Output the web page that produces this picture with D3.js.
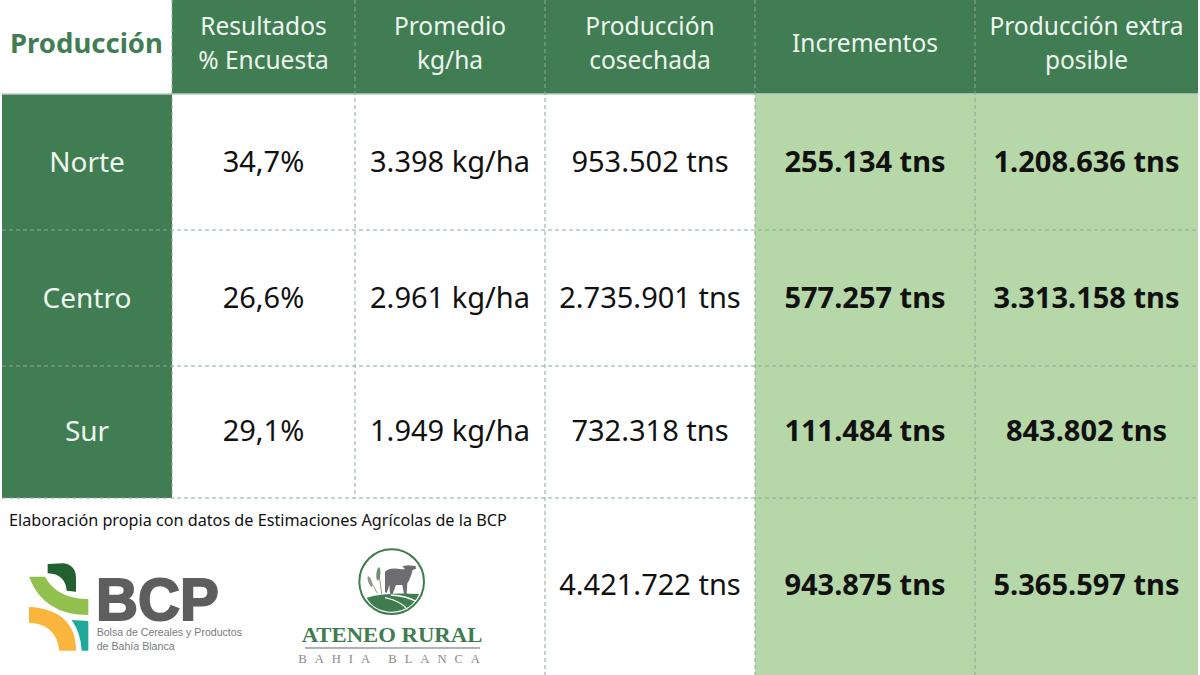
<!DOCTYPE html>
<html>
<head>
<meta charset="utf-8">
<script src="https://cdn.jsdelivr.net/npm/d3@7"></script>
<style>
  html, body { margin: 0; padding: 0; background: #fff; }
  svg { display: block; }
  text { font-family: "Noto Sans", sans-serif; }
</style>
</head>
<body>
<svg id="chart" width="1200" height="675"></svg>
<script>
// Table contents
const title = "Producción";
const headers = [["Resultados", "% Encuesta"], ["Promedio", "kg/ha"], ["Producción", "cosechada"], ["Incrementos"], ["Producción extra", "posible"]];
const regions = ["Norte", "Centro", "Sur"];
const encuesta = ["34,7%", "26,6%", "29,1%"];
const promedio = ["3.398 kg/ha", "2.961 kg/ha", "1.949 kg/ha"];
const cosechada = ["953.502 tns", "2.735.901 tns", "732.318 tns", "4.421.722 tns"];
const incrementos = ["255.134 tns", "577.257 tns", "111.484 tns", "943.875 tns"];
const extra = ["1.208.636 tns", "3.313.158 tns", "843.802 tns", "5.365.597 tns"];
const footnote = "Elaboración propia con datos de Estimaciones Agrícolas de la BCP";

const DARK = "#417d53", LIGHT = "#b6d7a8", DASH = "#8aa898";

// Column and row edges
const x = d3.scaleOrdinal().domain(d3.range(7)).range([2, 172, 355, 545, 755, 975, 1198]);
const y = d3.scaleOrdinal().domain(d3.range(5)).range([0, 94, 230, 366, 498]);
const xMid = i => (x(i) + x(i + 1)) / 2;
const yMid = [0, 162, 298, 431, 585];
const bottom = 675;

const svg = d3.select("#chart");

// Header band and row label column
svg.append("rect").attr("x", x(1)).attr("y", 0).attr("width", x(6) - x(1)).attr("height", y(1)).attr("fill", DARK);
svg.append("rect").attr("x", x(0)).attr("y", y(1)).attr("width", x(1) - x(0)).attr("height", y(4) - y(1)).attr("fill", DARK);
svg.append("rect").attr("x", x(4)).attr("y", y(1)).attr("width", x(6) - x(4)).attr("height", bottom - y(1)).attr("fill", LIGHT);
svg.append("line").attr("x1", x(0)).attr("x2", x(6)).attr("y1", y(1)).attr("y2", y(1))
  .attr("stroke", "#b9cfc0").attr("stroke-width", 1.5);

// Dashed grid
[1, 2].forEach(i => svg.append("line").attr("x1", x(i)).attr("x2", x(i)).attr("y1", 0).attr("y2", y(4))
  .attr("stroke", DASH).attr("stroke-width", 1).attr("stroke-dasharray", "4 3"));
[3, 4, 5].forEach(i => svg.append("line").attr("x1", x(i)).attr("x2", x(i)).attr("y1", 0).attr("y2", bottom)
  .attr("stroke", DASH).attr("stroke-width", 1).attr("stroke-dasharray", "4 3"));
[2, 3, 4].forEach(i => svg.append("line").attr("x1", x(0)).attr("x2", x(6)).attr("y1", y(i)).attr("y2", y(i))
  .attr("stroke", DASH).attr("stroke-width", 1).attr("stroke-dasharray", "4 3"));

// Title and headers
svg.append("text").attr("x", 10).attr("y", 53).attr("fill", DARK)
  .attr("font-size", 27.5).attr("font-weight", 700).text(title);

headers.forEach((lines, c) => {
  const ys = lines.length === 2 ? [35, 69] : [52];
  lines.forEach((t, k) => svg.append("text").attr("x", xMid(c + 1)).attr("y", ys[k])
    .attr("text-anchor", "middle").attr("fill", "#eef5ef").attr("font-size", 24.5).text(t));
});

// Region labels
svg.selectAll(".region").data(regions).join("text").attr("class", "region")
  .attr("x", xMid(0)).attr("y", (d, i) => yMid[i + 1] + 10)
  .attr("text-anchor", "middle").attr("fill", "#eef5ef").attr("font-size", 28).text(d => d);

// Value columns
const columns = [encuesta, promedio, cosechada, incrementos, extra];
columns.forEach((vals, c) => {
  svg.selectAll(".col" + c).data(vals).join("text").attr("class", "col" + c)
    .attr("x", xMid(c + 1)).attr("y", (d, i) => yMid[i + 1] + 10)
    .attr("text-anchor", "middle").attr("fill", "#111")
    .attr("font-size", 29).attr("font-weight", c >= 3 ? 700 : 400).text(d => d);
});

svg.append("text").attr("x", 9).attr("y", 526).attr("fill", "#111").attr("font-size", 16.2).text(footnote);

// BCP logo, drawn in zoomed units
const bcp = svg.append("g").attr("transform", "translate(0,500) scale(0.3333)");
bcp.append("path").attr("fill", "#23602f").attr("d", "M143,192 L190,190 Q228,195 228,235 L228,275 L200,272 Q196,222 143,220 Z");
bcp.append("path").attr("fill", "#93c14f").attr("d", "M87,230 L135,230 Q170,296 265,297 L265,345 Q130,345 87,230 Z");
bcp.append("path").attr("fill", "#f9b53c").attr("d", "M87,320 Q228,330 228,452 L178,452 Q170,372 87,368 Z");
bcp.append("path").attr("fill", "#1fa99a").attr("d", "M215,360 L265,363 L265,452 L245,452 Q243,400 215,360 Z");
bcp.append("text").attr("x", 288).attr("y", 360).attr("fill", "#5e5e5e")
  .attr("font-weight", 700).attr("font-size", 176)
  .attr("stroke", "#5e5e5e").attr("stroke-width", 6)
  .attr("textLength", 368).attr("lengthAdjust", "spacingAndGlyphs").style("font-family", "Liberation Sans").text("BCP");
bcp.append("text").attr("x", 290).attr("y", 407).attr("fill", "#7a7a7a").attr("font-size", 33)
  .attr("textLength", 436).attr("lengthAdjust", "spacingAndGlyphs").style("font-family", "Liberation Sans").text("Bolsa de Cereales y Productos");
bcp.append("text").attr("x", 290).attr("y", 451).attr("fill", "#7a7a7a").attr("font-size", 33)
  .attr("textLength", 234).attr("lengthAdjust", "spacingAndGlyphs").style("font-family", "Liberation Sans").text("de Bahía Blanca");

// Ateneo Rural logo, drawn in zoomed units
const ateneo = svg.append("g").attr("transform", "translate(270,530) scale(0.3333)");
ateneo.append("circle").attr("cx", 365).attr("cy", 155).attr("r", 97).attr("fill", "#fff").attr("stroke", "#3f7d4f").attr("stroke-width", 6);
ateneo.append("path").attr("fill", "#3f7d4f").attr("d", "M290,203 Q350,186 447,192 Q425,243 365,245 Q312,243 290,203 Z");
ateneo.append("path").attr("fill", "none").attr("stroke", "#fff").attr("stroke-width", 4).attr("d", "M345,203 Q390,212 412,238 M362,195 Q410,198 438,214");
ateneo.append("path").attr("fill", "#6e6e72").attr("d", "M345,125 Q360,110 395,118 L405,118 L397,108 L415,106 L437,108 L438,116 L428,120 Q420,150 412,160 L410,192 L402,192 L397,165 L378,165 L368,192 L360,192 L358,165 L350,190 L345,185 Z");
ateneo.append("path").attr("fill", "none").attr("stroke", "#6f8f72").attr("stroke-width", 2.5).attr("d", "M335,192 Q332,160 325,125 M322,190 Q312,170 300,150");
ateneo.append("ellipse").attr("cx", 325).attr("cy", 132).attr("rx", 6).attr("ry", 20).attr("transform", "rotate(5 325 132)").attr("fill", "#6f8f72");
ateneo.append("ellipse").attr("cx", 300).attr("cy", 155).attr("rx", 5).attr("ry", 17).attr("transform", "rotate(-20 300 155)").attr("fill", "#8a9a84");
ateneo.append("text").attr("x", 95).attr("y", 336).attr("fill", "#3f7d4f").attr("font-size", 66).attr("font-weight", 700)
  .attr("textLength", 542).attr("lengthAdjust", "spacingAndGlyphs").style("font-family", "Liberation Serif").text("ATENEO RURAL");
ateneo.append("rect").attr("x", 105).attr("y", 352).attr("width", 525).attr("height", 4).attr("fill", "#8d8d8d");
ateneo.append("text").attr("x", 85).attr("y", 400).attr("fill", "#8a8a8a").attr("font-size", 38)
  .attr("textLength", 545).attr("lengthAdjust", "spacing").style("font-family", "Liberation Serif").text("BAHIA BLANCA");
</script>
</body>
</html>
